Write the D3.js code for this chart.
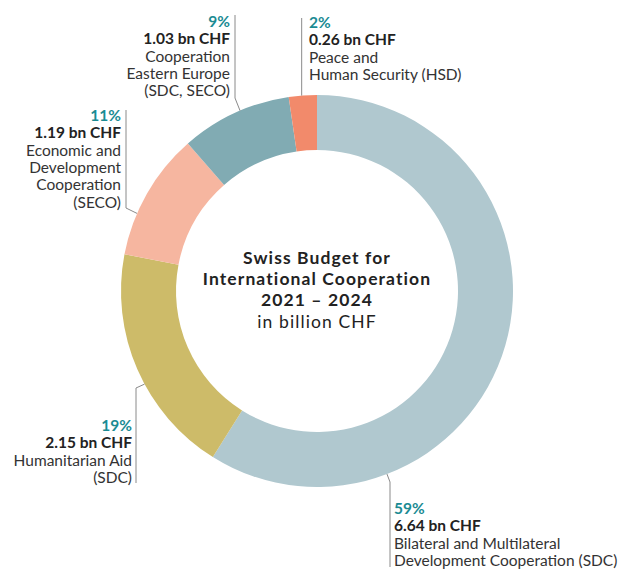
<!DOCTYPE html>
<html lang="en">
<head>
    <meta charset="UTF-8">
    <title>Swiss Budget for International Cooperation 2021 - 2024</title>
    <style>
        body {
            margin: 0;
            background: #fff;
        }
        svg {
            display: block;
            font-family: Lato, "Open Sans", sans-serif;
        }
        .pct {
            fill: #1b8b93;
            font-weight: 700;
        }
        .amt {
            fill: #222;
            font-weight: 700;
        }
        .desc {
            fill: #333;
        }
        .leader {
            fill: none;
            stroke: #8a8a8a;
            stroke-width: 1;
        }
        .title {
            font-size: 17.5px;
            letter-spacing: 1.1px;
            fill: #222;
        }
    </style>
</head>
<body>
    <svg width="625" height="570"></svg>
    <script src="https://d3js.org/d3.v7.min.js"></script>
    <script>
        // budget 2021-2024, bn CHF
        var names = ["Bilateral", "Humanitarian", "Economic", "Eastern", "HSD"];
        var amounts = [6.64, 2.15, 1.19, 1.03, 0.26];
        var descriptions = [
            ["Bilateral and Multilateral", "Development Cooperation (SDC)"],
            ["Humanitarian Aid", "(SDC)"],
            ["Economic and", "Development", "Cooperation", "(SECO)"],
            ["Cooperation", "Eastern Europe", "(SDC, SECO)"],
            ["Peace and", "Human Security (HSD)"]
        ];
        var colors = ["#b0c8cf", "#cdbb69", "#f6b6a0", "#81abb3", "#f28a6b"];
        var titleLines = ["Swiss Budget for", "International Cooperation", "2021 \u2013 2024"];
        var subtitle = "in billion CHF";

        // where each label sits (t = position along the slice for the leader)
        var labelLayout = [
            {t: 0.75, lineX: 390, elbowY: 482, endY: 567, textX: 394, anchor: "start", y0: 514},
            {t: 0.43, lineX: 136, elbowY: 388, endY: 483, textX: 132, anchor: "end", y0: 431},
            {t: 0.33, lineX: 126, elbowY: 208, endY: 110, textX: 121, anchor: "end", y0: 121},
            {t: 0.55, lineX: 235, elbowY: 98, endY: 15, textX: 230, anchor: "end", y0: 27},
            {t: 0.46, lineX: null, elbowY: null, endY: 18, textX: 309, anchor: "start", y0: 28}
        ];

        var svg = d3.select("svg");
        var cx = 317, cy = 291,
            outerR = 196, innerR = 141,
            lineH = 17.3;

        var total = d3.sum(amounts);

        var pie = d3.pie().sort(null).value(function(d) { return d; });
        var arc = d3.arc().innerRadius(innerR).outerRadius(outerR);
        var arcs = pie(amounts);

        var g = svg.append("g")
            .attr("transform", "translate(" + cx + "," + cy + ")");

        g.selectAll("path.slice")
            .data(arcs)
            .enter().append("path")
            .attr("class", "slice")
            .attr("d", arc)
            .attr("fill", function(d, i) { return colors[i]; });

        // centre title, one text per line
        titleLines.concat([subtitle]).forEach(function(t, i) {
            g.append("text")
                .attr("class", "title")
                .attr("text-anchor", "middle")
                .attr("x", 0)
                .attr("y", -27 + i * 21.2)
                .style("font-weight", i < titleLines.length ? 700 : 400)
                .text(t);
        });

        // labels with leader lines
        arcs.forEach(function(d, i) {
            var lay = labelLayout[i];
            var a = d.startAngle + lay.t * (d.endAngle - d.startAngle);
            var px = cx + outerR * Math.sin(a),
                py = cy - outerR * Math.cos(a);

            var pts;
            if (lay.lineX === null) {
                pts = [[px, py], [px, lay.endY]];
            } else {
                pts = [[px, py], [lay.lineX, lay.elbowY], [lay.lineX, lay.endY]];
            }
            svg.append("path")
                .attr("class", "leader")
                .attr("d", d3.line()(pts));

            var pct = Math.round(amounts[i] / total * 100) + "%";
            var lines = [{t: pct, c: "pct"}, {t: d3.format(".2f")(amounts[i]) + " bn CHF", c: "amt"}];
            descriptions[i].forEach(function(s) { lines.push({t: s, c: "desc"}); });

            var txt = svg.append("text")
                .attr("text-anchor", lay.anchor)
                .style("font-size", "15.5px");
            lines.forEach(function(l, k) {
                txt.append("tspan")
                    .attr("class", l.c)
                    .attr("x", lay.textX)
                    .attr("y", lay.y0 + k * lineH)
                    .text(l.t);
            });
        });
    </script>
</body>
</html>
